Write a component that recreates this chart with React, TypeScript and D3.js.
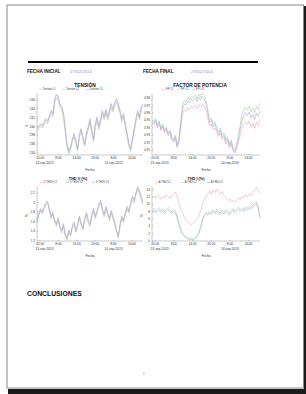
import React from 'react';
import * as d3 from 'd3';

// tick labels shared by the four time axes (sample index -> label)
const X_TICK_POS = [1.7, 12.1, 22.5, 32.9, 43.3, 53.7];
const X_TICK_LABELS = ['20:00', '8:00', '14:00', '20:00', '8:00', '14:00'];
const X_DATE_LABELS = ['13-sep-2013', '', '', '', '14-sep-2013', ''];

// TENSIÓN (V)
const tensionL1 = [239.2, 239.8, 240.4, 239.9, 240.8, 241.5, 240.9, 242.2, 243.3, 242.6, 246.0, 247.3, 246.5, 244.9, 244.2, 242.6, 239.2, 235.8, 234.0, 235.1, 236.9, 238.1, 236.5, 234.7, 238.1, 239.2, 237.4, 235.8, 238.1, 239.7, 241.5, 238.8, 236.9, 240.3, 241.9, 239.7, 241.5, 243.3, 241.9, 243.7, 241.9, 243.3, 244.9, 243.7, 245.3, 246.0, 244.9, 243.3, 241.5, 242.6, 240.3, 238.1, 235.8, 234.7, 236.9, 239.2, 241.5, 243.3, 241.9, 244.2, 244.9];
const tensionL2 = [238.8, 239.5, 240.0, 239.6, 240.3, 241.0, 240.6, 241.8, 242.7, 242.1, 245.3, 246.6, 246.0, 244.3, 243.8, 242.0, 238.7, 235.4, 233.8, 234.7, 236.4, 237.6, 236.1, 234.4, 237.5, 238.8, 237.0, 235.5, 237.6, 239.2, 241.0, 238.4, 236.6, 239.8, 241.3, 239.3, 241.0, 242.8, 241.5, 243.1, 241.4, 242.9, 244.3, 243.3, 244.7, 245.4, 244.4, 242.9, 241.0, 242.1, 239.9, 237.7, 235.4, 234.4, 236.5, 238.7, 241.0, 242.8, 241.4, 243.6, 244.3];
const tensionL3 = [239.5, 240.2, 240.6, 240.3, 241.1, 241.8, 241.3, 242.5, 243.7, 243.0, 246.3, 247.2, 246.8, 245.3, 244.5, 243.0, 239.6, 236.2, 234.3, 235.5, 237.2, 238.5, 236.9, 235.0, 238.4, 239.5, 237.8, 236.1, 238.5, 240.0, 241.8, 239.2, 237.3, 240.6, 242.2, 240.1, 241.8, 243.6, 242.3, 244.0, 242.3, 243.6, 245.2, 244.1, 245.6, 246.3, 245.3, 243.7, 241.9, 243.0, 240.7, 238.5, 236.2, 235.0, 237.3, 239.6, 241.9, 243.7, 242.3, 244.6, 245.2];
const tensionTicks = [234, 236, 238, 240, 242, 244, 246];

// FACTOR DE POTENCIA
const fpL1 = [0.946, 0.944, 0.948, 0.940, 0.944, 0.936, 0.941, 0.933, 0.936, 0.929, 0.932, 0.923, 0.920, 0.925, 0.913, 0.921, 0.941, 0.959, 0.964, 0.962, 0.967, 0.964, 0.969, 0.966, 0.970, 0.966, 0.971, 0.968, 0.972, 0.969, 0.964, 0.953, 0.942, 0.945, 0.937, 0.940, 0.933, 0.928, 0.933, 0.924, 0.927, 0.918, 0.922, 0.913, 0.918, 0.909, 0.906, 0.912, 0.920, 0.930, 0.940, 0.945, 0.948, 0.944, 0.949, 0.941, 0.946, 0.939, 0.948, 0.943, 0.951];
const fpL2 = [0.950, 0.948, 0.953, 0.944, 0.949, 0.940, 0.945, 0.937, 0.941, 0.933, 0.937, 0.928, 0.924, 0.930, 0.917, 0.926, 0.950, 0.971, 0.977, 0.975, 0.981, 0.977, 0.983, 0.980, 0.984, 0.979, 0.985, 0.981, 0.987, 0.983, 0.977, 0.964, 0.950, 0.953, 0.944, 0.948, 0.940, 0.934, 0.940, 0.930, 0.933, 0.924, 0.928, 0.918, 0.924, 0.914, 0.910, 0.919, 0.930, 0.944, 0.957, 0.964, 0.968, 0.964, 0.969, 0.961, 0.967, 0.960, 0.969, 0.964, 0.973];
const fpL3 = [0.948, 0.946, 0.950, 0.942, 0.947, 0.938, 0.943, 0.935, 0.939, 0.931, 0.935, 0.926, 0.922, 0.928, 0.915, 0.924, 0.946, 0.966, 0.972, 0.971, 0.976, 0.973, 0.978, 0.976, 0.980, 0.975, 0.981, 0.977, 0.982, 0.979, 0.973, 0.960, 0.947, 0.950, 0.941, 0.945, 0.937, 0.931, 0.937, 0.927, 0.930, 0.921, 0.925, 0.915, 0.921, 0.911, 0.907, 0.915, 0.925, 0.938, 0.950, 0.956, 0.960, 0.956, 0.961, 0.953, 0.958, 0.951, 0.960, 0.955, 0.963];
const fpTicks = [0.91, 0.92, 0.93, 0.94, 0.95, 0.96, 0.97, 0.98];

// THD V (%)
const thdvL1 = [1.61, 1.75, 1.85, 1.79, 1.89, 1.98, 2.00, 1.85, 1.69, 1.77, 1.61, 1.53, 1.65, 1.49, 1.40, 1.53, 1.32, 1.24, 1.40, 1.32, 1.49, 1.57, 1.40, 1.53, 1.69, 1.55, 1.45, 1.65, 1.77, 1.61, 1.53, 1.73, 1.85, 1.69, 1.81, 1.94, 2.02, 1.85, 1.73, 1.89, 1.77, 1.65, 1.81, 1.69, 1.57, 1.40, 1.28, 1.53, 1.69, 1.61, 1.77, 1.89, 1.81, 1.98, 2.10, 2.02, 2.18, 2.30, 2.22, 2.10, 1.98];
const thdvL2 = [1.58, 1.72, 1.83, 1.76, 1.86, 1.95, 1.97, 1.83, 1.66, 1.74, 1.59, 1.50, 1.62, 1.47, 1.37, 1.50, 1.30, 1.22, 1.37, 1.30, 1.46, 1.54, 1.38, 1.50, 1.66, 1.52, 1.43, 1.62, 1.74, 1.58, 1.50, 1.70, 1.82, 1.66, 1.78, 1.90, 1.98, 1.82, 1.70, 1.86, 1.74, 1.62, 1.78, 1.66, 1.54, 1.38, 1.26, 1.50, 1.66, 1.58, 1.74, 1.86, 1.78, 1.94, 2.06, 1.98, 2.14, 2.26, 2.18, 2.06, 1.95];
const thdvL3 = [1.63, 1.77, 1.87, 1.81, 1.91, 2.01, 2.03, 1.88, 1.72, 1.80, 1.64, 1.56, 1.68, 1.52, 1.43, 1.56, 1.35, 1.27, 1.43, 1.35, 1.52, 1.60, 1.43, 1.56, 1.72, 1.58, 1.48, 1.68, 1.80, 1.64, 1.56, 1.76, 1.88, 1.72, 1.84, 1.97, 2.05, 1.88, 1.76, 1.92, 1.80, 1.68, 1.84, 1.72, 1.60, 1.43, 1.31, 1.56, 1.72, 1.64, 1.80, 1.92, 1.84, 2.01, 2.13, 2.05, 2.21, 2.33, 2.25, 2.13, 2.01];
const thdvTicks = [1.2, 1.4, 1.6, 1.8, 2, 2.2];

// THD I (%)
const thdiL1 = [11.8, 12.3, 11.6, 12.5, 12.0, 11.4, 12.2, 11.7, 12.6, 12.1, 11.5, 12.4, 12.9, 13.4, 12.1, 10.2, 8.6, 7.4, 6.5, 5.8, 5.1, 4.7, 4.5, 4.9, 5.4, 5.9, 6.8, 8.2, 9.9, 11.2, 12.3, 12.9, 13.6, 12.8, 13.9, 13.2, 14.1, 13.4, 12.7, 13.5, 12.4, 11.8, 11.0, 11.5, 10.7, 11.2, 10.5, 11.1, 11.8, 11.3, 12.2, 11.7, 12.6, 12.0, 12.9, 12.4, 13.3, 13.8, 14.6, 13.9, 12.8];
const thdiL2 = [8.4, 8.9, 8.1, 8.7, 9.1, 8.3, 8.8, 7.9, 8.6, 9.2, 8.5, 8.0, 8.8, 8.3, 6.9, 5.0, 3.4, 2.3, 1.6, 1.1, 0.8, 0.6, 0.7, 0.5, 0.9, 1.4, 2.4, 4.1, 6.0, 7.3, 7.9, 7.4, 8.2, 7.7, 8.5, 7.9, 8.8, 8.1, 7.6, 8.4, 7.8, 8.6, 8.0, 7.5, 8.3, 8.9, 8.2, 8.7, 9.3, 8.6, 9.1, 8.5, 9.4, 8.9, 9.6, 9.0, 9.8, 10.3, 10.8, 9.4, 6.6];
const thdiL3 = [7.9, 8.3, 7.6, 8.2, 8.5, 7.8, 8.2, 7.4, 8.1, 8.6, 7.9, 7.5, 8.2, 7.7, 6.2, 4.3, 2.8, 1.8, 1.2, 0.8, 0.5, 0.3, 0.4, 0.3, 0.6, 1.0, 1.9, 3.5, 5.4, 6.8, 7.4, 7.0, 7.7, 7.2, 8.0, 7.4, 8.2, 7.6, 7.1, 7.9, 7.3, 8.0, 7.5, 7.0, 7.8, 8.3, 7.7, 8.2, 8.7, 8.1, 8.6, 8.0, 8.8, 8.4, 9.0, 8.5, 9.2, 9.7, 10.2, 8.9, 6.1];
const thdiTicks = [0, 2, 4, 6, 8, 10, 12, 14];

const COLORS = ['#e8a2ac', '#9ccc9c', '#a6a6e2'];
const FONT = '"Liberation Sans", Arial, sans-serif';

type PanelProps = {
  left: number; right: number; top: number; bottom: number;
  domain: [number, number]; yTicks: number[]; fmt: (v: number) => string;
  series: number[][]; title: string; titleX: number; titleSize: number;
  legend: string[]; legendX: number; legendStep: number; ylabel: string;
};

function Panel(p: PanelProps) {
  const x = d3.scaleLinear().domain([0, p.series[0].length - 1]).range([p.left, p.right]);
  const y = d3.scaleLinear().domain(p.domain).range([p.bottom, p.top]);
  const line = d3.line<number>().x((_, i) => x(i)).y(d => y(d));
  return (
    <g fontFamily={FONT}>
      <text x={p.titleX} y={p.top - 6.5} fontSize={p.titleSize} fontWeight="bold" textAnchor="middle" fill="#111">{p.title}</text>
      {p.legend.map((l, i) => (
        <g key={l} transform={`translate(${p.legendX + i * p.legendStep},${p.top - 3.6})`}>
          <line x1={0} x2={3} y1={0} y2={0} stroke={COLORS[i]} strokeWidth={0.6} />
          <text x={3.8} y={0.9} fontSize={2.6} fill="#333">{l}</text>
        </g>
      ))}
      <line x1={p.left} x2={p.left} y1={p.top} y2={p.bottom} stroke="#777" strokeWidth={0.4} />
      <line x1={p.left} x2={p.right} y1={p.bottom} y2={p.bottom} stroke="#777" strokeWidth={0.4} />
      {p.yTicks.map(t => (
        <g key={t}>
          <line x1={p.left} x2={p.left + 1.2} y1={y(t)} y2={y(t)} stroke="#777" strokeWidth={0.4} />
          <text x={p.left - 2} y={y(t) + 1.1} fontSize={3.1} textAnchor="end" fill="#333">{p.fmt(t)}</text>
        </g>
      ))}
      {X_TICK_POS.map((t, i) => (
        <g key={i}>
          <line x1={x(t)} x2={x(t)} y1={p.bottom} y2={p.bottom - 1.2} stroke="#777" strokeWidth={0.4} />
          <text x={x(t)} y={p.bottom + 4} fontSize={3.2} textAnchor="middle" fill="#333">{X_TICK_LABELS[i]}</text>
          {X_DATE_LABELS[i] && (
            <text x={i === 0 ? x(t) - 4.5 : x(t)} y={p.bottom + 8.6} fontSize={3.2}
              textAnchor={i === 0 ? 'start' : 'middle'} fill="#333">{X_DATE_LABELS[i]}</text>
          )}
        </g>
      ))}
      <text x={(p.left + p.right) / 2} y={p.bottom + 15.5} fontSize={3.3} textAnchor="middle" fill="#333">Fecha</text>
      <text transform={`translate(${p.left - 9.5},${(p.top + p.bottom) / 2 + 2}) rotate(-90)`} fontSize={3.3} textAnchor="middle" fill="#333">{p.ylabel}</text>
      {p.series.map((s, i) => (
        <path key={i} d={line(s) ?? ''} fill="none" stroke={COLORS[i]} strokeWidth={0.55} />
      ))}
    </g>
  );
}

export default function App() {
  const f0 = d3.format('d');
  const f2 = d3.format('.2f');
  const fg = d3.format('~g');
  return (
    <svg width={306} height={394} style={{ position: 'absolute', left: 0, top: 0 }} fontFamily={FONT}>
      <rect x={0} y={0} width={306} height={394} fill="#fff" />
      {/* page shadow and sheet */}
      <rect x={8} y={389} width={298} height={5} fill="#1a1a1a" />
      <rect x={304} y={6} width={2} height={388} fill="#1a1a1a" />
      <rect x={7} y={5} width={296.5} height={383} fill="#fff" stroke="#8a8a8a" strokeWidth={1} />

      <line x1={28} x2={258} y1={62} y2={62} stroke="#000" strokeWidth={2} />
      <text x={27} y={72.6} fontSize={4.6} fontWeight="bold" fill="#111">FECHA INICIAL</text>
      <text x={70} y={72.6} fontSize={4.4} fill="#8c8cd0">27/02/2014</text>
      <text x={143} y={72.6} fontSize={4.6} fontWeight="bold" fill="#111">FECHA FINAL</text>
      <text x={191} y={72.6} fontSize={4.4} fill="#8c8cd0">27/02/2014</text>

      <Panel left={37} right={143} top={93} bottom={155} domain={[233.5, 247.6]} yTicks={tensionTicks} fmt={f0}
        series={[tensionL1, tensionL2, tensionL3]} title="TENSIÓN" titleX={85} titleSize={4.8}
        legend={['Tensión L1', 'Tensión L2', 'Tensión L3']} legendX={39} legendStep={23.5} ylabel="V" />
      <Panel left={152} right={260} top={93} bottom={155} domain={[0.9033, 0.9867]} yTicks={fpTicks} fmt={f2}
        series={[fpL1, fpL2, fpL3]} title="FACTOR DE POTENCIA" titleX={200} titleSize={4.8}
        legend={['F.P. L1', 'F.P. L2', 'F.P. L3']} legendX={162} legendStep={15} ylabel="" />
      <Panel left={37} right={143} top={186} bottom={241} domain={[1.2, 2.34]} yTicks={thdvTicks} fmt={fg}
        series={[thdvL1, thdvL2, thdvL3]} title="THD V (%)" titleX={78} titleSize={3.8}
        legend={['V THDV L1', 'V THDV L2', 'V THDV L3']} legendX={40} legendStep={26} ylabel="%" />
      <Panel left={152} right={260} top={186} bottom={241} domain={[0, 15]} yTicks={thdiTicks} fmt={f0}
        series={[thdiL1, thdiL2, thdiL3]} title="THD I (%)" titleX={196} titleSize={3.8}
        legend={['A THDI L1', 'A THDI L2', 'A THDI L3']} legendX={155} legendStep={26} ylabel="%" />

      <text x={27} y={295.5} fontSize={6.8} fontWeight="bold" fill="#111">CONCLUSIONES</text>
      <text x={143} y={375} fontSize={3} fill="#555">1</text>
    </svg>
  );
}
